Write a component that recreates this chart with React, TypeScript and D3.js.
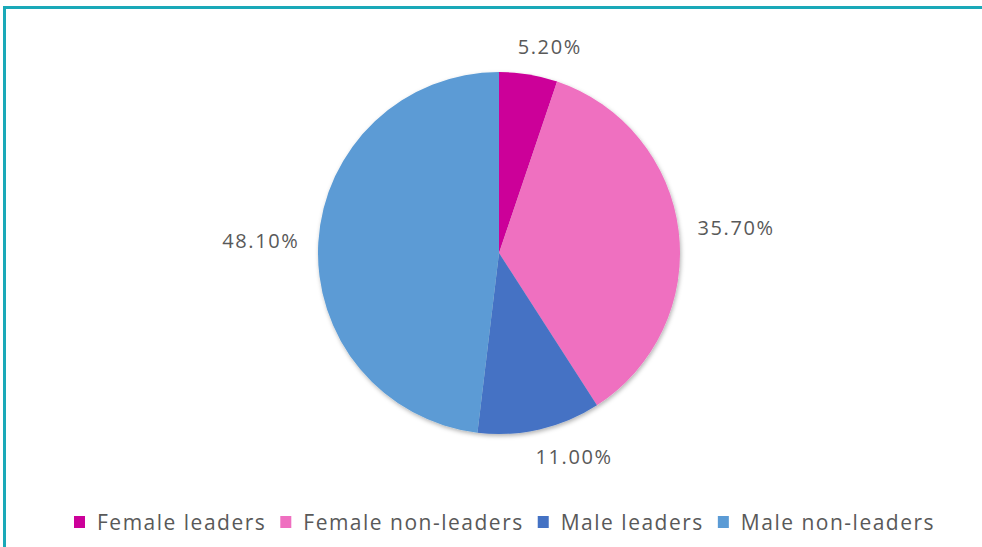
import React, { useEffect, useRef } from 'react';
import * as d3 from 'd3';

const categories = ['Female leaders', 'Female non-leaders', 'Male leaders', 'Male non-leaders'];
const shares = [5.2, 35.7, 11.0, 48.1];
const labels = ['5.20%', '35.70%', '11.00%', '48.10%'];
const colors = ['#cc0099', '#ef6fc0', '#4472c4', '#5b9bd5'];

const W = 982;
const H = 547;

const App = () => {
  const ref = useRef<SVGSVGElement>(null);

  useEffect(() => {
    const svg = d3.select(ref.current);
    svg.selectAll('*').remove();

    const cx = 499;
    const cy = 253;
    const r = 181;

    const defs = svg.append('defs');
    const f = defs.append('filter').attr('id', 'shadow')
      .attr('x', '-10%').attr('y', '-10%').attr('width', '120%').attr('height', '120%');
    f.append('feDropShadow')
      .attr('dx', 1).attr('dy', 2).attr('stdDeviation', 2)
      .attr('flood-color', '#000').attr('flood-opacity', 0.3);

    svg.append('rect').attr('width', W).attr('height', H).attr('fill', '#fff');

    // frame: top and left border only
    svg.append('line').attr('x1', 3).attr('x2', W).attr('y1', 7.5).attr('y2', 7.5)
      .attr('stroke', '#1aa9b8').attr('stroke-width', 3);
    svg.append('line').attr('x1', 4.5).attr('x2', 4.5).attr('y1', 6).attr('y2', H)
      .attr('stroke', '#1aa9b8').attr('stroke-width', 3);

    const data = categories.map((c, i) => ({ name: c, value: shares[i], label: labels[i], color: colors[i] }));

    const pie = d3.pie<any>().value(d => d.value).sort(null);
    const arc = d3.arc<any>().innerRadius(0).outerRadius(r);
    const arcs = pie(data);

    const g = svg.append('g').attr('transform', `translate(${cx},${cy})`);
    g.append('g').attr('filter', 'url(#shadow)')
      .selectAll('path')
      .data(arcs)
      .enter()
      .append('path')
      .attr('d', arc)
      .attr('fill', d => d.data.color);

    // outside-end labels
    const R = r + 19;
    g.selectAll('text.lbl')
      .data(arcs)
      .enter()
      .append('text')
      .attr('class', 'lbl')
      .attr('font-family', '"Open Sans", sans-serif')
      .attr('font-size', 20)
      .attr('letter-spacing', 1.6)
      .attr('fill', '#595959')
      .attr('text-anchor', 'middle')
      .attr('dominant-baseline', 'central')
      .text(d => d.data.label)
      .each(function (d) {
        const t = d3.select(this);
        const w = (this as SVGTextElement).getComputedTextLength();
        const h = 18;
        const a = (d.startAngle + d.endAngle) / 2;
        const s = Math.sin(a);
        const c = Math.cos(a);
        const k = Math.min(1, 3.5 * Math.abs(s));
        const x = R * s + Math.sign(s) * k * w / 2;
        const y = -R * c - c * h / 2;
        t.attr('x', x).attr('y', y);
      });

    // legend
    const legend = svg.append('g').attr('transform', 'translate(0,522)');
    let x = 74;
    data.forEach(d => {
      legend.append('rect').attr('x', x).attr('y', -6).attr('width', 11).attr('height', 12).attr('fill', d.color);
      const t = legend.append('text')
        .attr('x', x + 23)
        .attr('y', 0)
        .attr('dominant-baseline', 'central')
        .attr('font-family', '"Open Sans", sans-serif')
        .attr('font-size', 21)
        .attr('letter-spacing', 1.5)
        .attr('fill', '#595959')
        .text(d.name);
      const w = (t.node() as SVGTextElement).getComputedTextLength();
      x += 23 + w + 14;
    });
  }, []);

  return (
    <svg ref={ref} width={W} height={H} style={{ position: 'absolute', left: 0, top: 0, display: 'block' }} />
  );
};

export default App;
